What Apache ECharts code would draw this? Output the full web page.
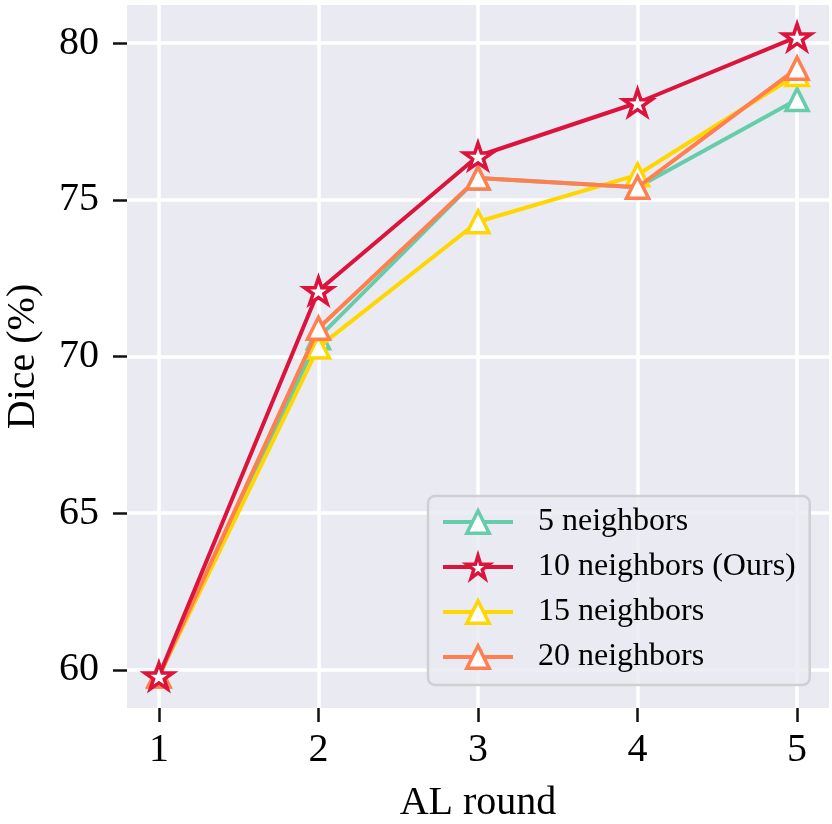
<!DOCTYPE html>
<html>
<head>
<meta charset="utf-8">
<script src="https://cdn.jsdelivr.net/npm/echarts@6.0.0/dist/echarts.min.js"></script>
<style>
html,body{margin:0;padding:0;background:#fff;}
#chart{width:832px;height:824px;}
</style>
</head>
<body>
<div id="chart"></div>
<script>
const rounds = [1, 2, 3, 4, 5];
const n5 = [59.8, 70.6, 75.7, 75.4, 78.2];
const n10 = [59.8, 72.1, 76.4, 78.1, 80.2];
const n15 = [59.8, 70.3, 74.3, 75.8, 79.0];
const n20 = [59.8, 70.9, 75.7, 75.4, 79.2];
const xTicks = [1, 2, 3, 4, 5];
const yTicks = [60, 65, 70, 75, 80];
const seriesNames = ['5 neighbors', '10 neighbors (Ours)', '15 neighbors', '20 neighbors'];
const colors = ['#66CDAA', '#DC143C', '#FFD700', '#FF7F50'];

const FONT = '"Liberation Serif", "Times New Roman", serif';
const STAR = 'path://M0,-100L22.45,-30.9L95.1,-30.9L36.33,11.8L58.78,80.9L0,38.2L-58.78,80.9L-36.33,11.8L-95.1,-30.9L-22.45,-30.9Z';

function mk(name, vals, color, symbol, size, bw, z) {
  return {
    name: name,
    type: 'line',
    data: rounds.map((r, i) => [r, vals[i]]),
    symbol: symbol,
    symbolSize: size,
    symbolKeepAspect: true,
    showAllSymbol: true,
    z: z,
    lineStyle: { color: color, width: 4 },
    itemStyle: { color: '#ffffff', borderColor: color, borderWidth: bw },
    emphasis: { disabled: true },
    animation: false
  };
}

const chart = echarts.init(document.getElementById('chart'));
chart.setOption({
  animation: false,
  backgroundColor: '#ffffff',
  grid: { left: 127, right: 3, top: 5, bottom: 116, show: true, backgroundColor: '#EAEAF2', borderWidth: 0, outerBoundsMode: 'none', containLabel: false },
  xAxis: {
    type: 'value', min: 0.8, max: 5.2,
    name: 'AL round', nameLocation: 'middle', nameGap: 75,
    nameTextStyle: { fontFamily: FONT, fontSize: 40, color: '#000' },
    axisLine: { show: false },
    axisTick: { show: true, length: 14, lineStyle: { color: '#111', width: 2.5 }, customValues: xTicks },
    axisLabel: { fontFamily: FONT, fontSize: 40, color: '#000', margin: 22, customValues: xTicks },
    splitLine: { show: true, lineStyle: { color: '#ffffff', width: 3.5 } }
  },
  yAxis: {
    type: 'value', min: 58.78, max: 81.22,
    name: 'Dice (%)', nameLocation: 'middle', nameGap: 84,
    nameTextStyle: { fontFamily: FONT, fontSize: 40, color: '#000' },
    axisLine: { show: false },
    axisTick: { show: true, length: 14, lineStyle: { color: '#111', width: 2.5 }, customValues: yTicks },
    axisLabel: { fontFamily: FONT, fontSize: 40, color: '#000', margin: 28, customValues: yTicks },
    splitLine: { show: true, lineStyle: { color: '#ffffff', width: 3.5 } }
  },
  legend: {
    left: 428, top: 496,
    orient: 'vertical',
    itemWidth: 70, itemHeight: 28, itemGap: 13,
    padding: [10, 14, 12, 13],
    backgroundColor: 'rgba(234,234,242,0.85)',
    borderColor: '#cfcfd4', borderWidth: 2.5, borderRadius: 7,
    lineStyle: { width: 4 },
    itemStyle: { borderWidth: 3.5 },
    textStyle: { fontFamily: FONT, fontSize: 32, color: '#000', padding: [0, 0, 0, 20] },
    data: seriesNames
  },
  series: [
    mk(seriesNames[0], n5, colors[0], 'triangle', 22, 3.5, 2),
    mk(seriesNames[2], n15, colors[2], 'triangle', 22, 3.5, 3),
    mk(seriesNames[3], n20, colors[3], 'triangle', 22, 3.5, 4),
    mk(seriesNames[1], n10, colors[1], STAR, [28, 27], 3.5, 5)
  ]
});
</script>
</body>
</html>
